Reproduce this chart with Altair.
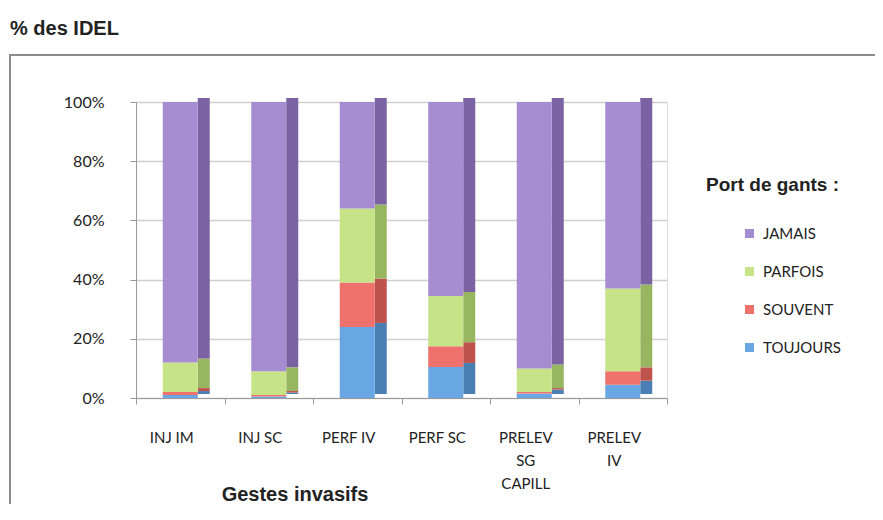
import altair as alt
import pandas as pd

categories = ["INJ IM", "INJ SC", "PERF IV", "PERF SC", "PRELEV SG CAPILL", "PRELEV IV"]
series = ["JAMAIS", "PARFOIS", "SOUVENT", "TOUJOURS"]
toujours = [1, 0.5, 24, 10.5, 1.5, 4.5]
souvent = [1, 0.5, 15, 7, 0.5, 4.5]
parfois = [10, 8, 25, 17, 8, 28]
jamais = [88, 91, 36, 65.5, 90, 63]
y_ticks = [0, 0.2, 0.4, 0.6, 0.8, 1.0]

front_colors = ["#a68dd2", "#c6e387", "#ee716c", "#68a6e4"]
side_colors = ["#7a62a3", "#98b660", "#c0524d", "#4a7fb4"]

rows = []
for i, c in enumerate(categories):
    for s, vals, o in [("TOUJOURS", toujours, 0), ("SOUVENT", souvent, 1),
                       ("PARFOIS", parfois, 2), ("JAMAIS", jamais, 3)]:
        rows.append({"geste": c, "port": s, "pct": vals[i] / 100, "ord": o})
df = pd.DataFrame(rows)

W, H = 531, 296
x_enc = alt.X("geste:N", sort=categories, title=None,
              scale=alt.Scale(paddingInner=0, paddingOuter=0),
              axis=alt.Axis(labelAngle=0, labelFont="Lato", labelFontSize=15,
                            labelColor="#222", labelPadding=33, labelLineHeight=23,
                            labelOffset=-9,
                            labelExpr="indexof(datum.label,'PRELEV')==0 ? split(datum.label,' ') : datum.label",
                            domainColor="#999", tickColor="#999", tickBand="extent",
                            tickOffset=-8, tickSize=6, grid=False, labelBaseline="middle"))
y_enc = alt.Y("pct:Q", stack="zero", title=None,
              scale=alt.Scale(domain=[0, 1]),
              axis=alt.Axis(values=y_ticks, format=".0%", labelFont="Lato",
                            labelFontSize=16, labelColor="#222", labelPadding=26,
                            domainColor="#999", tickColor="#999", tickSize=6,
                            gridColor="#cfcfcf", gridWidth=1.5))

side = alt.Chart(df).mark_bar(size=12, xOffset=23.5, yOffset=-4).encode(
    x=x_enc, y=y_enc,
    color=alt.Color("port:N", scale=alt.Scale(domain=series, range=side_colors), legend=None),
    order=alt.Order("ord:Q", sort="ascending"),
)

front = alt.Chart(df).mark_bar(size=35).encode(
    x=x_enc, y=y_enc,
    color=alt.Color("port:N", scale=alt.Scale(domain=series, range=front_colors),
                    legend=alt.Legend(title=None, orient="none", legendX=606, legendY=124,
                                      symbolType="square", symbolSize=81, symbolStrokeWidth=0,
                                      labelFont="Lato", labelFontSize=15, labelColor="#222",
                                      rowPadding=22, labelOffset=6)),
    order=alt.Order("ord:Q", sort="ascending"),
)

frame = alt.Chart(pd.DataFrame({"a": [0]})).mark_rect(
    fill=None, stroke="#8c8c8c", strokeWidth=2
).encode(x=alt.value(-126), x2=alt.value(800), y=alt.value(-47), y2=alt.value(500))

title_txt = alt.Chart(pd.DataFrame({"t": ["% des IDEL"]})).mark_text(
    font="Liberation Sans", fontWeight="bold", fontSize=20, align="left",
    baseline="middle", color="#222").encode(text="t:N", x=alt.value(-126), y=alt.value(-73))
xt_txt = alt.Chart(pd.DataFrame({"t": ["Gestes invasifs"]})).mark_text(
    font="Liberation Sans", fontWeight="bold", fontSize=20, align="center",
    baseline="middle", color="#222").encode(text="t:N", x=alt.value(159), y=alt.value(393))
lg_txt = alt.Chart(pd.DataFrame({"t": ["Port de gants :"]})).mark_text(
    font="Liberation Sans", fontWeight="bold", fontSize=19, align="left",
    baseline="middle", color="#222").encode(text="t:N", x=alt.value(570), y=alt.value(83))

chart = alt.layer(frame, side, front, title_txt, xt_txt, lg_txt).resolve_scale(
    color="independent"
).properties(
    width=W, height=H,
    autosize=alt.AutoSizeParams(type="none"),
    padding={"left": 128, "top": 94, "right": 208, "bottom": 106},
).configure_view(stroke=None).configure(background="white")

chart.save("out.html", embed_options={"renderer": "svg", "actions": False})
